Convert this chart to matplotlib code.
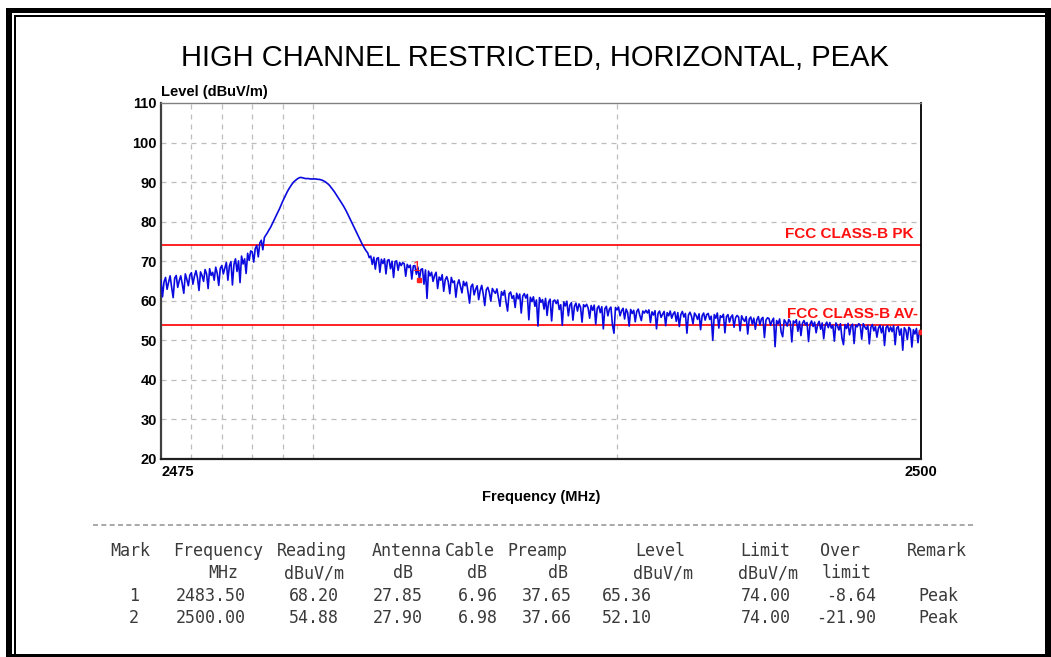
import numpy as np
import matplotlib.pyplot as plt
from matplotlib.patches import Rectangle

W, H = 1051, 657

# sweep: 2475 - 2500 MHz, 0.05 MHz per point (20 points per MHz row)
f_start, f_stop = 2475.0, 2500.0
level_dbuv = [
    65.2, 61.0, 64.8, 65.9, 62.9, 64.7, 66.3, 63.4, 60.8, 65.7, 66.4, 63.4, 65.1, 66.3, 64.2, 61.9, 66.8, 65.4, 63.8, 66.5,  # 2475
    67.1, 64.2, 66.2, 67.6, 65.8, 62.6, 67.3, 66.4, 64.9, 67.9, 66.8, 63.1, 68.1, 66.4, 67.2, 65.2, 68.5, 66.9, 63.9, 68.2,  # 2476
    68.9, 66.8, 68.3, 69.7, 65.2, 68.8, 69.9, 64.0, 69.2, 70.6, 67.4, 70.1, 64.6, 71.3, 69.3, 70.6, 66.9, 72.0, 70.2, 72.6,  # 2477
    72.4, 69.8, 73.2, 74.0, 71.1, 74.6, 75.3, 72.9, 76.0, 76.6, 77.2, 77.9, 78.5, 79.3, 80.1, 80.9, 81.7, 82.5, 83.3, 84.2,  # 2478
    85.1, 85.9, 86.7, 87.5, 88.2, 88.8, 89.4, 89.9, 90.3, 90.6, 90.9, 91.1, 91.2, 91.1, 91.0, 90.9, 90.9, 90.9, 90.8, 90.8,  # 2479
    90.8, 90.8, 90.8, 90.7, 90.7, 90.6, 90.5, 90.3, 90.1, 89.8, 89.5, 89.1, 88.6, 88.1, 87.6, 87.0, 86.4, 85.8, 85.2, 84.6,  # 2480
    84.0, 83.3, 82.6, 81.8, 81.0, 80.2, 79.4, 78.6, 77.8, 77.0, 76.2, 75.4, 74.6, 73.9, 73.2, 72.6, 72.1, 70.9, 71.3, 69.2,  # 2481
    71.0, 68.0, 70.7, 70.9, 67.2, 70.5, 69.4, 70.6, 66.8, 70.2, 70.4, 68.1, 70.0, 65.9, 69.9, 70.1, 67.7, 69.7, 68.9, 69.6,  # 2482
    69.4, 66.2, 69.2, 68.4, 69.0, 65.5, 68.8, 68.9, 66.7, 68.5, 65.36, 67.9, 68.1, 64.2, 67.8, 60.6, 67.5, 66.3, 67.2, 64.9,  # 2483
    66.4, 67.2, 63.1, 66.0, 65.2, 66.6, 62.4, 65.3, 66.1, 64.8, 61.8, 65.9, 64.6, 65.0, 60.9, 64.1, 65.3, 63.7, 62.0, 64.9,  # 2484
    63.8, 64.7, 62.2, 59.4, 63.6, 64.2, 61.5, 62.9, 63.8, 60.3, 62.6, 63.9, 61.7, 58.8, 62.8, 63.4, 62.1, 59.9, 63.1, 62.4,  # 2485
    61.9, 63.0, 60.8, 58.6, 62.3, 61.4, 62.6, 59.7, 57.4, 61.8, 62.2, 60.6, 61.3, 58.3, 61.9, 60.5, 61.7, 56.9, 61.2, 61.8,  # 2486
    60.7, 61.6, 55.2, 60.9, 59.8, 61.0, 58.6, 60.2, 53.6, 60.8, 59.6, 60.3, 57.9, 60.6, 56.3, 59.7, 60.4, 54.9, 59.9, 60.2,  # 2487
    59.3, 60.2, 57.8, 59.0, 53.8, 59.7, 58.7, 59.9, 56.2, 58.9, 59.5, 55.1, 58.6, 59.4, 57.4, 59.2, 58.4, 54.6, 59.0, 58.5,  # 2488
    59.1, 58.2, 55.6, 58.8, 57.6, 58.9, 54.1, 58.1, 58.7, 57.0, 58.5, 52.9, 58.0, 58.6, 56.2, 57.9, 58.4, 53.9, 51.8, 58.3,  # 2489
    57.7, 58.4, 56.2, 57.5, 58.1, 55.4, 57.9, 57.0, 53.6, 57.8, 56.8, 57.6, 54.7, 57.3, 57.9, 56.3, 55.0, 57.4, 56.9, 57.6,  # 2490
    56.9, 57.7, 54.5, 57.2, 56.4, 57.5, 52.9, 56.8, 57.4, 55.8, 56.6, 57.3, 53.7, 57.0, 56.2, 57.4, 55.6, 56.7, 57.2, 54.8,  # 2491
    57.0, 53.5, 56.5, 57.3, 55.9, 56.8, 51.8, 56.4, 57.1, 56.1, 54.2, 56.9, 56.3, 55.3, 56.7, 52.7, 56.2, 56.9, 55.1, 56.5,  # 2492
    56.8, 55.3, 56.1, 50.0, 56.5, 55.6, 56.9, 53.1, 56.2, 55.8, 56.6, 51.9, 56.0, 56.5, 54.6, 55.9, 56.4, 53.3, 55.7, 56.3,  # 2493
    55.9, 52.4, 56.2, 55.3, 54.8, 56.0, 51.6, 55.4, 55.9, 54.1, 55.6, 52.8, 55.2, 56.0, 53.9, 55.4, 55.8, 50.7, 55.1, 55.7,  # 2494
    55.5, 53.8, 54.9, 55.6, 48.4, 55.0, 54.2, 55.4, 52.1, 50.9, 55.2, 54.6, 53.6, 55.3, 54.7, 49.6, 54.9, 54.4, 55.2, 52.3,  # 2495
    54.8, 51.2, 54.3, 55.0, 53.9, 54.5, 49.7, 54.1, 54.9, 53.5, 54.6, 51.9, 54.0, 54.8, 52.8, 54.4, 50.4, 53.9, 54.6, 53.2,  # 2496
    54.5, 53.1, 53.8, 49.8, 54.4, 53.7, 52.6, 54.2, 50.6, 48.9, 54.0, 53.0, 54.3, 51.4, 53.6, 54.1, 49.2, 53.9, 53.4, 54.2,  # 2497
    53.9, 50.3, 54.2, 53.4, 52.8, 53.8, 49.1, 53.3, 54.0, 52.4, 53.5, 50.8, 53.1, 53.8, 51.9, 53.6, 48.7, 53.2, 53.7, 52.2,  # 2498
    53.4, 52.2, 53.7, 48.9, 53.1, 53.5, 51.3, 52.9, 47.5, 53.2, 52.6, 50.2, 53.3, 52.8, 48.3, 52.7, 51.6, 53.0, 49.4, 52.5,  # 2499
    52.10,
]

pk_limit = 74.0
av_limit = 54.0
y_ticks = [20, 30, 40, 50, 60, 70, 80, 90, 100, 110]
x_grid = [2476, 2477, 2478, 2479, 2480, 2490]

# marker table
mark = ['1', '2']
mark_freq = [2483.50, 2500.00]
reading = [68.20, 54.88]
antenna = [27.85, 27.90]
cable = [6.96, 6.98]
preamp = [37.65, 37.66]
level = [65.36, 52.10]
limit = [74.00, 74.00]
over = [-8.64, -21.90]
remark = ['Peak', 'Peak']

plt.rcParams['font.family'] = ['Liberation Sans', 'DejaVu Sans']

fig = plt.figure(figsize=(W / 100, H / 100), dpi=100)

# page layer in pixel coordinates: frame, title, table
bg = fig.add_axes([0, 0, 1, 1])
bg.set_xlim(0, W)
bg.set_ylim(H, 0)
bg.axis('off')
bg.add_patch(Rectangle((6, 8), W - 6, 5, color='black', lw=0))
bg.add_patch(Rectangle((6, 8), 6, H - 8, color='black', lw=0))
bg.add_patch(Rectangle((6, 654), W - 6, 3, color='black', lw=0))
bg.add_patch(Rectangle((1045, 8), 6, H - 8, color='black', lw=0))
bg.add_patch(Rectangle((14, 15), W - 14, 2, color='black', lw=0))
bg.add_patch(Rectangle((14, 15), 2, H - 15, color='black', lw=0))

bg.text(535, 58, 'HIGH CHANNEL RESTRICTED, HORIZONTAL, PEAK', fontsize=21,
        ha='center', va='center', color='black')

bg.plot([93, 975], [525, 525], color='#9a9a9a', lw=1.2, ls=(0, (3, 2)))

mono = dict(family='DejaVu Sans Mono', fontsize=12, color='#3a3a3a', va='center')
hdr_y, unit_y, row_y = 551, 573, [596, 618]
headers = [('Mark', 110), ('Frequency', 173), ('Reading', 277), ('Antenna', 372),
           ('Cable', 445), ('Preamp', 507), ('Level', 635), ('Limit', 740),
           ('Over', 820), ('Remark', 907)]
for txt, x in headers:
    bg.text(x, hdr_y, txt, ha='left', **mono)
units = [('MHz', 208), ('dBuV/m', 284), ('dB', 393), ('dB', 467), ('dB', 548),
         ('dBuV/m', 633), ('dBuV/m', 738), ('limit', 822)]
for txt, x in units:
    bg.text(x, unit_y, txt, ha='left', **mono)
for i, y in enumerate(row_y):
    bg.text(134, y, mark[i], ha='center', **mono)
    bg.text(246, y, f'{mark_freq[i]:.2f}', ha='right', **mono)
    bg.text(339, y, f'{reading[i]:.2f}', ha='right', **mono)
    bg.text(423, y, f'{antenna[i]:.2f}', ha='right', **mono)
    bg.text(498, y, f'{cable[i]:.2f}', ha='right', **mono)
    bg.text(572, y, f'{preamp[i]:.2f}', ha='right', **mono)
    bg.text(602, y, f'{level[i]:.2f}', ha='left', **mono)
    bg.text(791, y, f'{limit[i]:.2f}', ha='right', **mono)
    bg.text(876, y, f'{over[i]:.2f}', ha='right', **mono)
    bg.text(938, y, remark[i], ha='center', **mono)

# spectrum plot
ax = fig.add_axes([161 / W, 1 - 459 / H, 760 / W, 356 / H])
freq = np.linspace(f_start, f_stop, len(level_dbuv))
ax.plot(freq, level_dbuv, color='#0a0ae0', lw=1.2, zorder=3)
ax.axhline(pk_limit, color='#ff1010', lw=1.3, zorder=2)
ax.axhline(av_limit, color='#ff1010', lw=1.3, zorder=2)
ax.plot(mark_freq, level, ls='none', marker='s', ms=3.5, color='#ff2020', zorder=4)
ax.text(mark_freq[0] - 0.08, level[0] + 3.3, mark[0], color='#ff2020',
        fontsize=10.5, ha='center', va='center', zorder=5)

ax.set_xlim(f_start, f_stop)
ax.set_ylim(20, 110)
ax.set_yticks(y_ticks)
ax.set_yticklabels([str(v) for v in y_ticks], fontsize=10.5, fontweight='bold')
ax.set_xticks([f_start, f_stop])
ax.set_xticklabels(['2475', '2500'], fontsize=10.5, fontweight='bold')
xl = ax.get_xticklabels()
xl[0].set_ha('left')
ax.tick_params(length=0, pad=3)
ax.tick_params(axis='x', pad=4)

for v in y_ticks[1:-1]:
    ax.axhline(v, color='#bdbdbd', lw=0.9, ls=(0, (4, 4)), zorder=1)
for v in x_grid:
    ax.axvline(v, color='#bdbdbd', lw=0.9, ls=(0, (4, 4)), zorder=1)

ax.spines['left'].set_color('#404040')
ax.spines['left'].set_linewidth(1.6)
ax.spines['bottom'].set_color('#202020')
ax.spines['bottom'].set_linewidth(1.6)
ax.spines['top'].set_color('#808080')
ax.spines['top'].set_linewidth(1.0)
ax.spines['right'].set_color('black')
ax.spines['right'].set_linewidth(1.3)

ax.text(0, 1.01, 'Level (dBuV/m)', transform=ax.transAxes, fontsize=10.5,
        fontweight='bold', ha='left', va='bottom')
ax.set_xlabel('Frequency (MHz)', fontsize=10.5, fontweight='bold', labelpad=8)

ax.text(2499.75, pk_limit + 1.0, 'FCC CLASS-B PK', color='#ff1010', fontsize=11,
        fontweight='bold', ha='right', va='bottom')
ax.text(2499.9, av_limit + 1.0, 'FCC CLASS-B AV-', color='#ff1010', fontsize=11,
        fontweight='bold', ha='right', va='bottom')

fig.savefig('out.png', dpi=100)
